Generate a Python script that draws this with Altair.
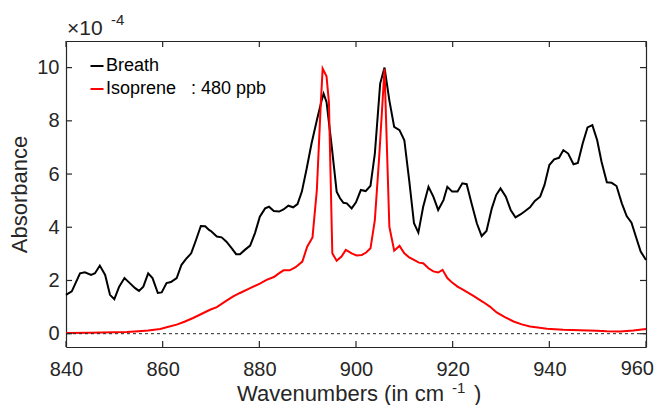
import altair as alt
import pandas as pd

# ---------------- data (absorbance in units of 1e-4) ----------------
breath_x = [840, 841.2, 842.9, 843.9, 845.2, 846, 847, 848.1, 849.1, 850, 851, 852.1, 853.2, 854.3,
            855.1, 856, 857, 857.9, 859, 859.8, 860.8, 861.7, 862.9, 863.9, 864.8, 865.9, 866.9,
            867.9, 868.8, 869.6, 870.1, 871.2, 872.2, 873.2, 874.3, 875.2, 876, 877, 878.1, 879.1,
            880.1, 881.2, 882, 883, 884.1, 885, 886, 887, 887.9, 888.8, 889.8, 890.8, 891.9, 892.9,
            893.3, 893.9, 895, 896, 896.7, 897.4, 898.1, 899.1, 900, 901, 902, 903, 903.9, 905,
            905.9, 906.9, 907.9, 909, 910, 911, 912, 912.9, 913.9, 915, 916, 917, 918.1, 918.9,
            919.9, 921, 922, 922.9, 923.9, 925, 926, 927, 928.1, 929, 929.9, 931, 932, 933, 934.1,
            935, 936, 937, 938.1, 939, 940, 941, 942, 942.9, 943.9, 945, 945.9, 946.9, 947.9, 948.9,
            949.9, 950.8, 951.9, 952.9, 953.9, 955, 956, 957, 957.9, 958.9, 960]
breath_y = [1.46, 1.59, 2.27, 2.31, 2.21, 2.27, 2.56, 2.21, 1.46, 1.30, 1.77, 2.09, 1.90, 1.71,
            1.61, 1.77, 2.27, 2.09, 1.53, 1.55, 1.90, 1.94, 2.09, 2.59, 2.80, 3.02, 3.52,
            4.05, 4.04, 3.90, 3.84, 3.65, 3.62, 3.46, 3.21, 2.99, 2.99, 3.15, 3.31, 3.78,
            4.40, 4.71, 4.77, 4.61, 4.59, 4.67, 4.81, 4.75, 4.87, 5.34, 6.21, 7.15, 8.02, 8.77,
            9.02, 8.71, 7.00, 5.34, 5.09, 4.92, 4.90, 4.71, 4.94, 5.40, 5.36, 5.56, 6.77, 9.40,
            10.0, 8.77, 7.77, 7.65, 7.27, 5.77, 4.15, 3.80, 4.77, 5.52, 5.15, 4.65, 5.02, 5.52,
            5.34, 5.34, 5.65, 5.62, 4.90, 4.15, 3.67, 3.86, 4.71, 5.21, 5.46, 5.15, 4.65, 4.37, 4.49,
            4.61, 4.75, 4.99, 5.15, 5.59, 6.34, 6.55, 6.61, 6.90, 6.77, 6.37, 6.42, 7.15, 7.75, 7.84,
            7.27, 6.46, 5.69, 5.67, 5.55, 4.90, 4.42, 4.17, 3.65, 3.09, 2.77]

iso_x = [840, 845, 850, 852.6, 855, 857, 859.5, 861, 862.9, 864.5, 866.3, 868, 869.8, 871.2, 873.3,
         874.6, 876, 878.1, 880.1, 881.5, 883, 883.9, 885, 886.3, 887.5, 888.9, 889.9, 891, 891.9,
         892.7, 893.1, 893.9, 894.4, 895.1, 896, 897, 897.9, 899.1, 900.1, 901.2, 902.1, 903,
         903.9, 904.8, 905.9, 906.9, 907.9, 909, 910, 911, 912, 913, 913.9, 915, 916, 917, 917.9,
         918.9, 919.9, 921, 922.2, 924.3, 926.3, 927.7, 929.1, 930.8, 932.6, 934.3, 936, 938,
         939.5, 942.9, 946.3, 949.8, 951.9, 954.6, 957.4, 960]
iso_y = [0.03, 0.04, 0.05, 0.06, 0.09, 0.12, 0.18, 0.25, 0.34, 0.45, 0.59, 0.74, 0.90, 1.00, 1.25,
         1.40, 1.53, 1.71, 1.88, 2.02, 2.13, 2.25, 2.38, 2.38, 2.50, 2.71, 3.27, 3.62, 5.40,
         8.60, 9.96, 9.67, 8.70, 3.02, 2.74, 2.90, 3.15, 3.02, 2.94, 2.96, 3.05, 3.21,
         4.27, 6.65, 9.95, 4.02, 3.12, 3.30, 3.02, 2.87, 2.77, 2.67, 2.65, 2.46, 2.34, 2.30, 2.40,
         2.09, 1.92, 1.77, 1.65, 1.42, 1.19, 1.02, 0.80, 0.62, 0.46, 0.35, 0.27, 0.22,
         0.19, 0.15, 0.13, 0.11, 0.09, 0.08, 0.12, 0.18]

series_names = ["Breath", "Isoprene\u00a0\u00a0 : 480 ppb"]
series_colors = ["#000000", "#ff0000"]
x_ticks = [840, 860, 880, 900, 920, 940, 960]
y_ticks = [0, 2, 4, 6, 8, 10]
x_domain = [840, 960]
y_domain = [-0.5, 11]

df = pd.concat([
    pd.DataFrame({"wn": breath_x, "a": breath_y, "series": series_names[0]}),
    pd.DataFrame({"wn": iso_x, "a": iso_y, "series": series_names[1]}),
], ignore_index=True)
xt_df = pd.DataFrame({"v": x_ticks})
yt_df = pd.DataFrame({"v": y_ticks})
last_df = pd.DataFrame({"v": x_ticks[-1:], "t": [str(x_ticks[-1])]})

FONT = "Liberation Sans"
INK = "#262626"
W, H = 580, 306
TL = 6  # inward tick length
LABEL_SIZE = 20
LABEL_PAD_X = 12

xscale = alt.Scale(domain=x_domain, nice=False, zero=False)
yscale = alt.Scale(domain=y_domain, nice=False, zero=False)

lines = alt.Chart(df).mark_line(strokeWidth=2).encode(
    x=alt.X("wn:Q", scale=xscale,
            axis=alt.Axis(orient="bottom", values=x_ticks[:-1], title=None, ticks=False,
                          labelPadding=LABEL_PAD_X, labelFlush=False, format="d")),
    y=alt.Y("a:Q", scale=yscale,
            axis=alt.Axis(orient="left", values=y_ticks, title="Absorbance", ticks=False,
                          labelPadding=7, labelFlush=False, titlePadding=5, titleFontSize=22,
                          titleFont=FONT, titleColor=INK, titleFontWeight="normal", format="d")),
    color=alt.Color("series:N", sort=series_names,
                    scale=alt.Scale(domain=series_names, range=series_colors),
                    legend=alt.Legend(title=None, orient="none", legendX=22, legendY=16,
                                      labelFontSize=18, labelFont=FONT, labelColor="#000000",
                                      labelLimit=0, symbolType="stroke", symbolStrokeWidth=2,
                                      symbolSize=169, labelOffset=0, rowPadding=5, padding=0)),
)

frame = alt.Chart(df).mark_line(strokeOpacity=0).encode(
    x=alt.X("wn:Q", scale=xscale,
            axis=alt.Axis(orient="top", values=x_ticks, labels=False, title=None, ticks=False)),
    y=alt.Y("a:Q", scale=yscale,
            axis=alt.Axis(orient="right", values=y_ticks, labels=False, title=None, ticks=False)),
    detail="series:N",
)

# last x tick label, kept inside the canvas edge
last_label = alt.Chart(last_df).mark_text(
    align="right", baseline="top", dx=8, font=FONT, fontSize=LABEL_SIZE, color=INK
).encode(x=alt.X("v:Q", scale=xscale, axis=None), y=alt.value(H + LABEL_PAD_X), text="t:N")

tick_style = dict(color=INK, strokeWidth=1.2)
ticks_bottom = alt.Chart(xt_df).mark_rule(**tick_style).encode(
    x=alt.X("v:Q", scale=xscale, axis=None), y=alt.value(H), y2=alt.value(H - TL))
ticks_top = alt.Chart(xt_df).mark_rule(**tick_style).encode(
    x=alt.X("v:Q", scale=xscale, axis=None), y=alt.value(0), y2=alt.value(TL))
ticks_left = alt.Chart(yt_df).mark_rule(**tick_style).encode(
    y=alt.Y("v:Q", scale=yscale, axis=None), x=alt.value(0), x2=alt.value(TL))
ticks_right = alt.Chart(yt_df).mark_rule(**tick_style).encode(
    y=alt.Y("v:Q", scale=yscale, axis=None), x=alt.value(W), x2=alt.value(W - TL))

zero = alt.Chart(pd.DataFrame({"z": [0]})).mark_rule(
    color=INK, strokeDash=[3, 3], strokeWidth=1
).encode(y=alt.Y("z:Q", scale=yscale, axis=None))


def label(text, x, y, size, align="left"):
    return alt.Chart(pd.DataFrame({"t": [text]})).mark_text(
        align=align, baseline="alphabetic", font=FONT, fontSize=size, color=INK
    ).encode(x=alt.value(x), y=alt.value(y), text="t:N")


texts = [
    label("\u00d710", 1, -6, 21),
    label("-4", 45, -16, 15),
    label("Wavenumbers (in cm", 378, 360, 22, align="right"),
    label("-1", 386, 352, 15),
    label(")", 408, 360, 22),
]

chart = alt.layer(lines, frame, zero, ticks_bottom, ticks_top, ticks_left, ticks_right,
                  last_label, *texts).properties(
    width=W, height=H,
    autosize=alt.AutoSizeParams(type="none"),
    padding={"left": 58, "top": 33, "right": 8, "bottom": 58},
).configure_view(stroke=None).configure_axis(
    grid=False, domainColor=INK, labelColor=INK, labelFont=FONT,
    labelFontSize=LABEL_SIZE, domainWidth=1.2,
)

chart.save("out.html", embed_options={"renderer": "svg", "actions": False})
